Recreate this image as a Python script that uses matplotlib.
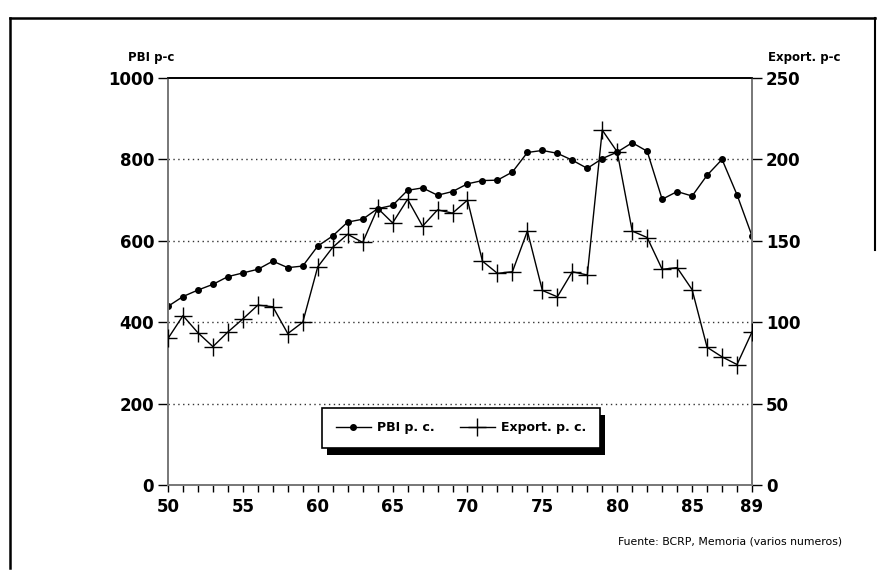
import numpy as np
import matplotlib
matplotlib.use("Agg")
import matplotlib.pyplot as plt
from matplotlib.patches import Rectangle
from matplotlib.lines import Line2D

# datos (1950-1989)
anios = list(range(50, 90))
pbi_pc = [439, 463, 479, 493, 512, 521, 530, 550, 534, 538,
          587, 612, 646, 653, 679, 687, 724, 730, 712, 721,
          740, 748, 749, 769, 817, 822, 815, 798, 778, 802,
          818, 841, 820, 702, 721, 710, 761, 800, 713, 612]
export_pc = [90, 104, 93.5, 85, 94, 102, 110.5, 109.5, 93, 100,
             134, 146, 154, 149, 170, 161, 175.5, 159, 169, 167,
             175, 137.5, 130, 131, 156, 119.5, 115.6, 131, 129, 218,
             204.6, 156, 152, 132.5, 133.5, 120, 84.6, 78.7, 74, 94]

xticks = [50, 55, 60, 65, 70, 75, 80, 85, 89]
yticks_izq = [0, 200, 400, 600, 800, 1000]
yticks_der = [0, 50, 100, 150, 200, 250]

W, H = 892, 571
fig = plt.figure(figsize=(W / 100, H / 100), dpi=100)
plt.rcParams['font.family'] = ['DejaVu Sans']

x0, x1, y0, y1 = 168, 752, 78, 485
ax = fig.add_axes([x0 / W, 1 - y1 / H, (x1 - x0) / W, (y1 - y0) / H])
ax2 = ax.twinx()

gris = '#7a7a7a'
for a in (ax, ax2):
    a.set_xlim(50, 89)
    for s in ('left', 'right', 'bottom'):
        a.spines[s].set_color(gris)
        a.spines[s].set_linewidth(1.4)
    a.spines['top'].set_color('black')
    a.spines['top'].set_linewidth(1.2)

ax.set_ylim(0, 1000)
ax2.set_ylim(0, 250)
ax.set_yticks(yticks_izq)
ax2.set_yticks(yticks_der)
ax.set_xticks(xticks)
ax.set_xticks(anios, minor=True)

ax.tick_params(axis='y', direction='out', length=7, width=1, color='black', pad=3,
               labelsize=12)
ax2.tick_params(axis='y', direction='out', length=7, width=1, color='black', pad=3,
                labelsize=12)
ax.tick_params(axis='x', which='both', direction='out', length=5, width=1,
               color='black', pad=4, labelsize=12)
for lab in ax.get_xticklabels() + ax.get_yticklabels() + ax2.get_yticklabels():
    lab.set_fontweight('bold')

for v in [200, 400, 600, 800]:
    ax.axhline(v, color='#333333', lw=1, ls=(0, (1, 2.5)), zorder=0)

l1, = ax.plot(anios, pbi_pc, color='black', lw=1, marker='o', ms=4,
              label='PBI p. c.', zorder=3)
l2, = ax2.plot(anios, export_pc, color='black', lw=1, marker='+', ms=13,
               mew=1, label='Export. p. c.', zorder=3)

fig.text(128 / W, 1 - 57 / H, 'PBI p-c', fontsize=8.5, fontweight='bold',
         ha='left', va='center')
fig.text(840 / W, 1 - 57 / H, 'Export. p-c', fontsize=8.5, fontweight='bold',
         ha='right', va='center')
fig.text(842 / W, 1 - 542 / H, 'Fuente: BCRP, Memoria (varios numeros)',
         fontsize=7.8, ha='right', va='center')

leg = ax2.legend(handles=[l1, l2], loc='center', ncol=2,
                 bbox_to_anchor=(461 / W, 1 - 428 / H),
                 bbox_transform=fig.transFigure, frameon=True, fancybox=False,
                 framealpha=1, edgecolor='black', prop={'weight': 'bold', 'size': 9},
                 handlelength=2.8, handletextpad=0.5, columnspacing=2.0,
                 borderpad=1.1)
leg.get_frame().set_linewidth(1.2)
leg.set_zorder(10)

fig.canvas.draw()
bb = leg.get_window_extent()
# sombra negra desplazada, debajo de la leyenda
sombra = Rectangle(((bb.x0 + 5) / W, (bb.y0 - 7) / H), bb.width / W,
                   bb.height / H, transform=fig.transFigure,
                   facecolor='black', edgecolor='none', zorder=9, clip_on=False)
ax2.add_patch(sombra)

# marco exterior
fig.add_artist(Line2D([10 / W, 875 / W], [1 - 18 / H, 1 - 18 / H],
                      transform=fig.transFigure, color='black', lw=1.8))
fig.add_artist(Line2D([10 / W, 10 / W], [1 - 18 / H, 1 - 568 / H],
                      transform=fig.transFigure, color='black', lw=1.8))
fig.add_artist(Line2D([875 / W, 875 / W], [1 - 18 / H, 1 - 250 / H],
                      transform=fig.transFigure, color='black', lw=1.5))

fig.savefig('out.png', dpi=100)
